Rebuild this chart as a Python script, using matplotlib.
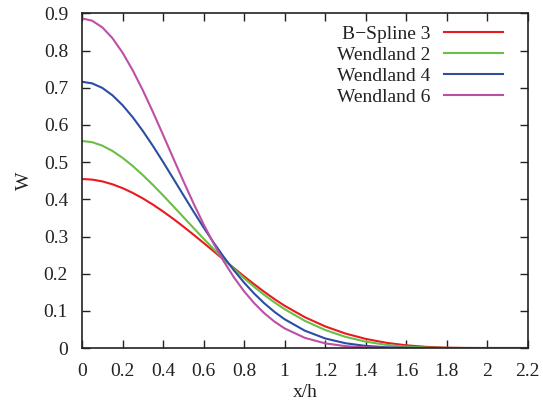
import matplotlib
matplotlib.use("Agg")
import matplotlib.pyplot as plt

plt.rcParams['font.family'] = ['Liberation Serif', 'DejaVu Serif']
plt.rcParams['font.size'] = 14

# x/h sample points
q = [0.0, 0.05, 0.1, 0.15, 0.2, 0.25, 0.3, 0.35, 0.4, 0.45, 0.5, 0.55, 0.6,
     0.65, 0.7, 0.75, 0.8, 0.85, 0.9, 0.95, 1.0, 1.1, 1.2, 1.3, 1.4, 1.5,
     1.6, 1.7, 1.8, 1.9, 2.0, 2.2]

bspline3 = [0.4547, 0.4531, 0.4483, 0.4405, 0.4302, 0.4174, 0.4026, 0.3858,
            0.3674, 0.3477, 0.3268, 0.3051, 0.2828, 0.2602, 0.2375, 0.2149,
            0.1928, 0.1714, 0.1509, 0.1315, 0.1137, 0.0829, 0.0582, 0.0390,
            0.0246, 0.0142, 0.0073, 0.0031, 0.0009, 0.0001, 0.0, 0.0]
wendland2 = [0.5570, 0.5537, 0.5445, 0.5302, 0.5117, 0.4898, 0.4653, 0.4387,
             0.4107, 0.3818, 0.3525, 0.3232, 0.2942, 0.2660, 0.2387, 0.2125,
             0.1877, 0.1644, 0.1427, 0.1227, 0.1045, 0.0731, 0.0485, 0.0301,
             0.0172, 0.0087, 0.0037, 0.0012, 0.0003, 0.0, 0.0, 0.0]
wendland4 = [0.7162, 0.7120, 0.6998, 0.6800, 0.6534, 0.6211, 0.5841, 0.5436,
             0.5007, 0.4563, 0.4116, 0.3674, 0.3244, 0.2833, 0.2446, 0.2088,
             0.1760, 0.1464, 0.1202, 0.0972, 0.0774, 0.0466, 0.0258, 0.0129,
             0.0057, 0.0021, 0.0006, 0.0001, 0.0, 0.0, 0.0, 0.0]
wendland6 = [0.8867, 0.8806, 0.8627, 0.8337, 0.7947, 0.7474, 0.6936, 0.6350,
             0.5736, 0.5112, 0.4494, 0.3896, 0.3330, 0.2805, 0.2327, 0.1900,
             0.1526, 0.1205, 0.0934, 0.0710, 0.0528, 0.0273, 0.0126, 0.0051,
             0.0017, 0.0005, 0.0001, 0.0, 0.0, 0.0, 0.0, 0.0]

labels = ['B\u2212Spline 3', 'Wendland 2', 'Wendland 4', 'Wendland 6']
colors = ['#e8191f', '#6abf45', '#2b4ea2', '#bd4fa5']

fig = plt.figure(figsize=(5.43, 4.08), dpi=100)
ax = fig.add_axes([0.151, 0.147, 0.821, 0.82])

for ys, lab, c in zip([bspline3, wendland2, wendland4, wendland6], labels, colors):
    ax.plot(q, ys, color=c, lw=1.5, label=lab)

ax.set_xlim(0, 2.2)
ax.set_ylim(0, 0.9)
ax.set_xticks([0, 0.2, 0.4, 0.6, 0.8, 1, 1.2, 1.4, 1.6, 1.8, 2, 2.2])
ax.set_xticklabels(['0', '0.2', '0.4', '0.6', '0.8', '1', '1.2', '1.4',
                    '1.6', '1.8', '2', '2.2'])
ax.set_yticks([0, 0.1, 0.2, 0.3, 0.4, 0.5, 0.6, 0.7, 0.8, 0.9])
ax.set_yticklabels(['0', '0.1', '0.2', '0.3', '0.4', '0.5', '0.6', '0.7',
                    '0.8', '0.9'])
ax.tick_params(direction='in', length=6, width=1, top=True, right=True,
               colors='#222222', labelcolor='#222222')
ax.tick_params(axis='x', pad=11)
ax.tick_params(axis='y', pad=10)
for s in ax.spines.values():
    s.set_color('#222222')
    s.set_linewidth(1.2)

ax.set_xlabel('x/h', color='#222222', labelpad=3)
ax.set_ylabel('W', color='#222222', labelpad=8)

leg = ax.legend(loc='upper right', frameon=False, markerfirst=False,
                handlelength=3.0, handletextpad=0.7, labelspacing=0.18,
                borderaxespad=0.2, bbox_to_anchor=(0.97, 1.0))
for t in leg.get_texts():
    t.set_color('#222222')
    t.set_ha('right')

fig.savefig('out.png', dpi=100)
